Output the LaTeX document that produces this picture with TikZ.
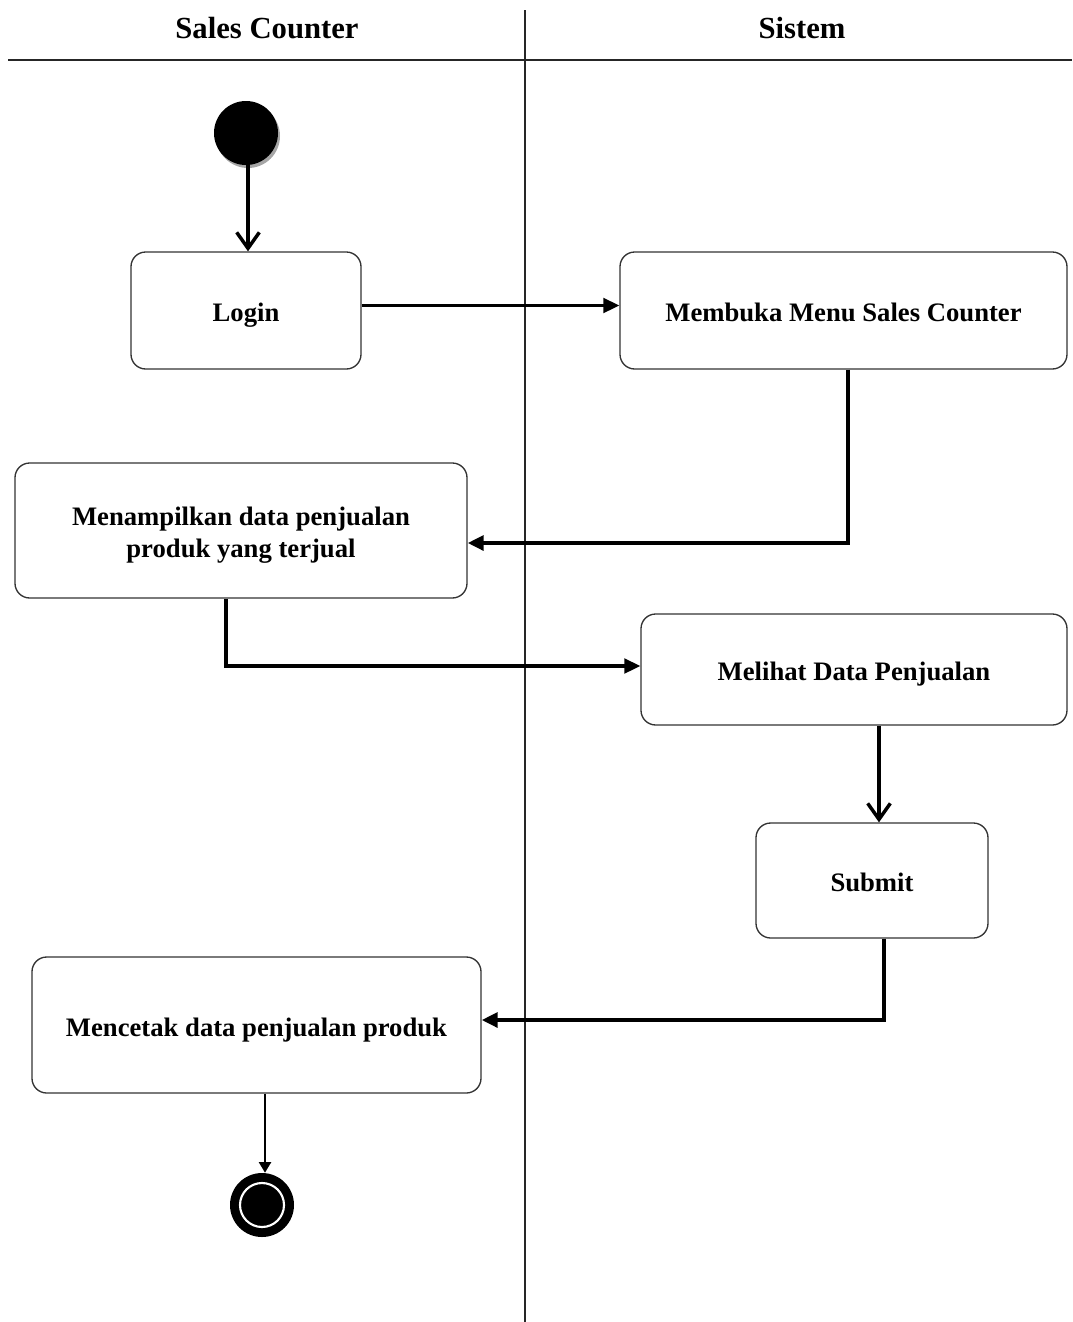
\documentclass[tikz,border=0pt]{standalone}
\usepackage{fontspec}
\setmainfont{Liberation Serif}
\usetikzlibrary{arrows.meta,calc}
\begin{document}
\begin{tikzpicture}[x=0.75pt,y=-0.75pt,
  lane/.style={line width=1.2pt,black!85},
  act/.style={draw=black!80,line width=1pt,rounded corners=11pt,fill=white,
    inner sep=0pt,align=center,text height=17pt,text depth=0pt,
    font=\fontsize{20}{24}\selectfont\bfseries},
  title/.style={font=\fontsize{23}{27}\selectfont\bfseries},
  flow/.style={line width=2.3pt,-{Triangle[length=12pt,width=11pt]}},
  heavy/.style={line width=3pt,-{Triangle[length=12pt,width=11pt]}},
  open/.style={line width=2.6pt,-{Straight Barb[length=12pt,width=17pt,line width=2.6pt]}},
  thin/.style={line width=1.8pt,-{Triangle[length=8pt,width=9pt]}}]
\useasboundingbox (0,0) rectangle (1072,1322);

% swimlanes
\draw[lane] (8,60) -- (1072,60);
\draw[lane] (525,10) -- (525,1322);
\node[title] (laneA) at (267,28) {Sales Counter};
\node[title] (laneB) at (802,28) {Sistem};

% initial node
\fill[black!35] (248,136) circle (32);
\node[circle,fill=black,minimum size=48pt,inner sep=0pt] (start) at (246,133) {};

% activities
\node[act,minimum width=172.5pt,minimum height=87.75pt] (login) at (246,310.5) {Login};
\node[act,minimum width=335.25pt,minimum height=87.75pt] (membuka) at (843.5,310.5) {Membuka Menu Sales Counter};
\node[act,minimum width=339pt,minimum height=101.25pt,text height=41pt] (tampil) at (241,530.5) {Menampilkan data penjualan\\produk yang terjual};
\node[act,minimum width=319.5pt,minimum height=83.25pt] (lihat) at (854,669.5) {Melihat Data Penjualan};
\node[act,minimum width=174pt,minimum height=86.25pt] (submit) at (872,880.5) {Submit};
\node[act,minimum width=336.75pt,minimum height=102pt] (cetak) at (256.5,1025) {Mencetak data penjualan produk};

% final node
\node[circle,fill=black,minimum size=48pt,inner sep=0pt] (final) at (262,1205) {};
\draw[white,line width=1.6pt] (final.center) circle (22);

% control flow
\draw[open] ($(start.south)+(2,0)$) -- (login.north -| 248,0);
\draw[flow] ($(login.east)+(0,-5)$) -- ($(membuka.west)+(0,-5)$);
\draw[heavy] ($(membuka.south)+(4.5,0)$) |- ($(tampil.east)+(0,12.5)$);
\draw[flow] ($(tampil.south)+(-15,0)$) |- ($(lihat.west)+(0,-3.5)$);
\draw[open] ($(lihat.south)+(25,0)$) -- ($(submit.north)+(7,0)$);
\draw[heavy] ($(submit.south)+(12,0)$) |- ($(cetak.east)+(0,-5)$);
\draw[thin] ($(cetak.south)+(8.5,0)$) -- ($(final.north)+(3,0)$);
\end{tikzpicture}
\end{document}
